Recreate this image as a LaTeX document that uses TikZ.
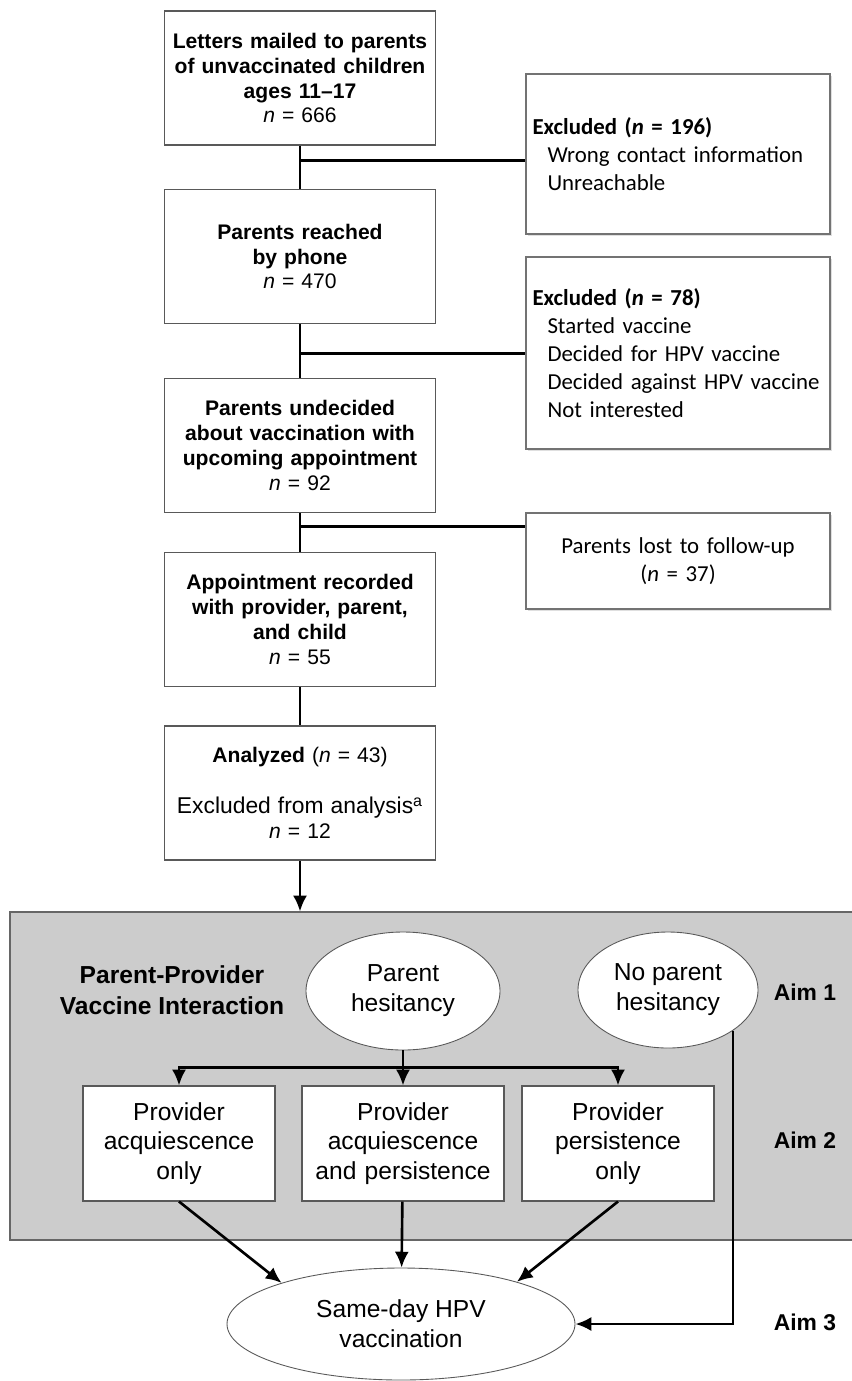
\documentclass[tikz,border=0pt]{standalone}
\usepackage{fontspec}
\setmainfont{Liberation Sans}
\newfontfamily\calibri{Carlito}
\usetikzlibrary{shapes,arrows,arrows.meta,positioning,calc,shadows}
\tikzset{
    block/.style={rectangle, draw=black!65, fill=white, text width=5.2cm, align=center, minimum width=5.42cm, minimum height=2.68cm, inner sep=2pt, font=\fontsize{12}{14.2}\selectfont, line width=0.6pt},
    excl/.style={rectangle, draw=black!55, fill=white, text width=5.82cm, align=left, minimum width=6.08cm, inner xsep=0.13cm, font=\calibri\fontsize{13}{15.9}\selectfont, line width=0.6pt, drop shadow={shadow xshift=1.2pt, shadow yshift=-1.2pt, opacity=0.25}},
    choice/.style={rectangle, draw=black!65, fill=white, text width=3.6cm, align=center, minimum height=2.3cm, inner sep=2pt, font=\fontsize{14}{17}\selectfont, line width=0.6pt},
    cloud/.style={draw=black!65, ellipse, fill=white, align=center, inner sep=0pt, font=\fontsize{14}{17}\selectfont, line width=0.5pt},
    panel/.style={rectangle, draw=black!60, fill=black!20, line width=0.6pt},
    aim/.style={font=\bfseries\fontsize{13}{16}\selectfont},
    line/.style={draw, -{Latex[length=9pt, width=8pt]}, line width=1.5pt},
    link/.style={draw, line width=1.5pt}
}
\begin{document}
\begin{tikzpicture}
    \useasboundingbox (0,0) rectangle (17.02,-27.62);

    % recruitment
    \node [block] (letters) at (6,-1.56) {\textbf{Letters mailed to parents}\\\textbf{of unvaccinated children}\\\textbf{ages 11--17}\\\textit{n} = 666};
    \node [block, below of=letters, node distance=3.57cm] (reached) {\textbf{Parents reached}\\\textbf{by phone}\\\textit{n} = 470};
    \node [block, below of=reached, node distance=3.78cm] (undecided) {\textbf{Parents undecided}\\\textbf{about vaccination with}\\\textbf{upcoming appointment}\\\textit{n} = 92};
    \node [block, below of=undecided, node distance=3.48cm] (recorded) {\textbf{Appointment recorded}\\\textbf{with provider, parent,}\\\textbf{and child}\\\textit{n} = 55};
    \node [block, below of=recorded, node distance=3.47cm] (analyzed) {\textbf{Analyzed} (\textit{n} = 43)\\[15pt]{\fontsize{13}{14.2}\selectfont Excluded from analysis\textsuperscript{a}}\\\textit{n} = 12};

    \node [excl, minimum height=3.2cm] (excl1) at (13.56,-3.08) {\textbf{Excluded (\textit{n} = 196)}\\\hspace*{0.3cm}Wrong contact information\\\hspace*{0.3cm}Unreachable};
    \node [excl, minimum height=3.84cm] (excl2) at (13.56,-7.06) {\textbf{Excluded (\textit{n} = 78)}\\\hspace*{0.3cm}Started vaccine\\\hspace*{0.3cm}Decided for HPV vaccine\\\hspace*{0.3cm}Decided against HPV vaccine\\\hspace*{0.3cm}Not interested};
    \node [excl, minimum height=1.92cm, align=center] (lost) at (13.56,-11.22) {Parents lost to follow-up\\(\textit{n} = 37)};

    \coordinate (c1) at ($(letters.south)!0.35!(reached.north)$);
    \coordinate (c2) at ($(reached.south)!0.55!(undecided.north)$);
    \coordinate (c3) at ($(undecided.south)!0.35!(recorded.north)$);

    \path [link] (letters) -- (reached);
    \path [link] (reached) -- (undecided);
    \path [link] (undecided) -- (recorded);
    \path [link] (recorded) -- (analyzed);
    \path [link] (c1) -- (c1 -| excl1.west);
    \path [link] (c2) -- (c2 -| excl2.west);
    \path [link] (c3) -- (c3 -| lost.west);

    % interaction panel
    \node [panel, minimum width=16.9cm, minimum height=6.56cm] (box) at (8.65,-21.52) {};
    \path [line] (analyzed) -- (analyzed.south |- box.north);

    \node [font=\bfseries\fontsize{14}{17.6}\selectfont, align=center] (heading) at (3.44,-19.8) {Parent-Provider\\Vaccine Interaction};
    \node [cloud, minimum width=3.88cm, minimum height=2.36cm] (hesitant) at (8.06,-19.82) {Parent\\hesitancy};
    \node [cloud, minimum width=3.6cm, minimum height=2.32cm] (nohesitant) at (13.36,-19.8) {No parent\\hesitancy};

    \node [choice, minimum width=3.84cm] (acq) at (3.58,-22.87) {Provider\\acquiescence\\only};
    \node [choice, minimum width=4.04cm] (both) at (8.06,-22.87) {Provider\\acquiescence\\and persistence};
    \node [choice, minimum width=3.84cm] (pers) at (12.36,-22.87) {Provider\\persistence\\only};

    \node [cloud, minimum width=6.96cm, minimum height=2.24cm] (sameday) at (8.02,-26.48) {Same-day HPV\\vaccination};

    \node [aim] (aim1) at (16.1,-19.84) {Aim 1};
    \node [aim] (aim2) at (16.1,-22.8) {Aim 2};
    \node [aim] (aim3) at (16.1,-26.44) {Aim 3};

    \coordinate (split) at ($(hesitant.south)+(0,-0.34)$);
    \path [link] (hesitant.south) -- (split);
    \path [line] (split) -| (acq);
    \path [line] (split) -- (both);
    \path [line] (split) -| (pers);

    \path [line] (acq.south) -- (sameday.161);
    \path [line] (both) -- (sameday);
    \path [line] (pers.south) -- (sameday.20);
    \path [line] (nohesitant.-32) |- (sameday);
\end{tikzpicture}
\end{document}
